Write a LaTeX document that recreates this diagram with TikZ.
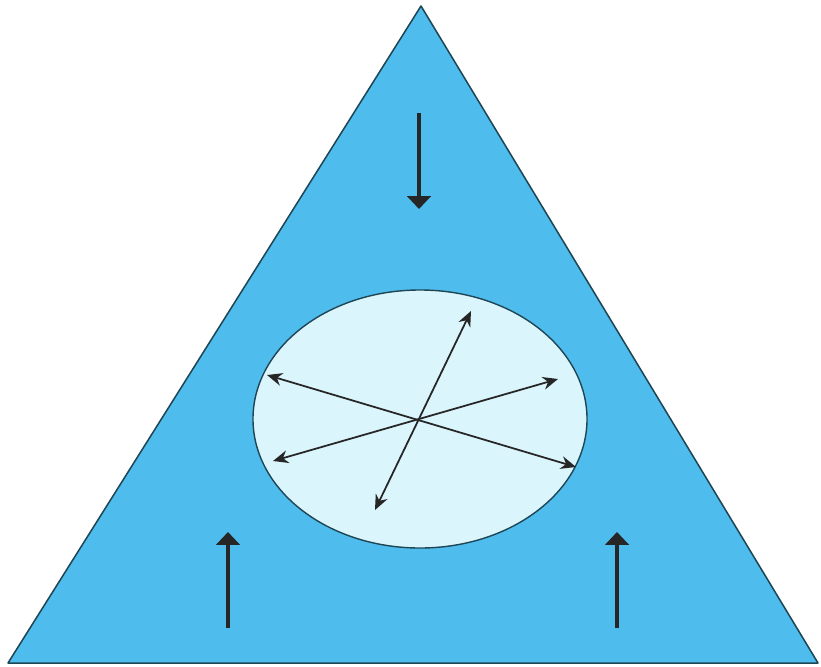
\documentclass[tikz,border=0pt]{standalone}
\usepackage{tikz}
\usetikzlibrary{shapes.geometric, arrows.meta}
\definecolor{azulprisma}{RGB}{78, 188, 236}
\definecolor{azulnucleo}{RGB}{218, 245, 252}
\definecolor{bordeoscuro}{RGB}{30, 70, 85}

\begin{document}
\begin{tikzpicture}[
		x=0.03cm, y=-0.03cm,                        % un pixel de la figura
		presion/.style = {
			line width=3.8pt,
			-{Triangle[width=20pt, length=11pt]},
			draw=black!85
		},
		dispersion/.style = {
			line width=1.5pt,
			{Stealth[width=11pt, length=13pt]}-{Stealth[width=11pt, length=13pt]},
			draw=black!85
		}
		]
		
		\useasboundingbox (0,0) rectangle (821,666);
		
		% Triangulo exterior
		\coordinate (apex) at (421,6);
		\coordinate (baseizq) at (8,663);
		\coordinate (baseder) at (818,663);
		\draw[bordeoscuro, line width=1.3pt, fill=azulprisma, line join=round]
			(apex) -- (baseizq) -- (baseder) -- cycle;
		
		% Nucleo central
		\node[ellipse, draw=bordeoscuro, line width=1.2pt, fill=azulnucleo,
			inner sep=0pt, minimum width=10.02cm, minimum height=7.74cm] (nucleo) at (420,419) {};
		
		% Flechas de presion
		\coordinate (arribaini) at (419,113);
		\coordinate (arribafin) at (419,209);
		\coordinate (izqini) at (228,628);
		\coordinate (izqfin) at (228,532);
		\coordinate (derini) at (617,628);
		\coordinate (derfin) at (617,532);
		\draw[presion] (arribaini) -- (arribafin);
		\draw[presion] (izqini) -- (izqfin);
		\draw[presion] (derini) -- (derfin);
		
		% Flechas dentro del nucleo
		\coordinate (a1) at (471,311);
		\coordinate (a2) at (375,510);
		\coordinate (b1) at (267,375);
		\coordinate (b2) at (576,467);
		\coordinate (c1) at (273,461);
		\coordinate (c2) at (558,379);
		\draw[dispersion] (a1) -- (a2);
		\draw[dispersion] (b1) -- (b2);
		\draw[dispersion] (c1) -- (c2);
		
	\end{tikzpicture}
\end{document}
